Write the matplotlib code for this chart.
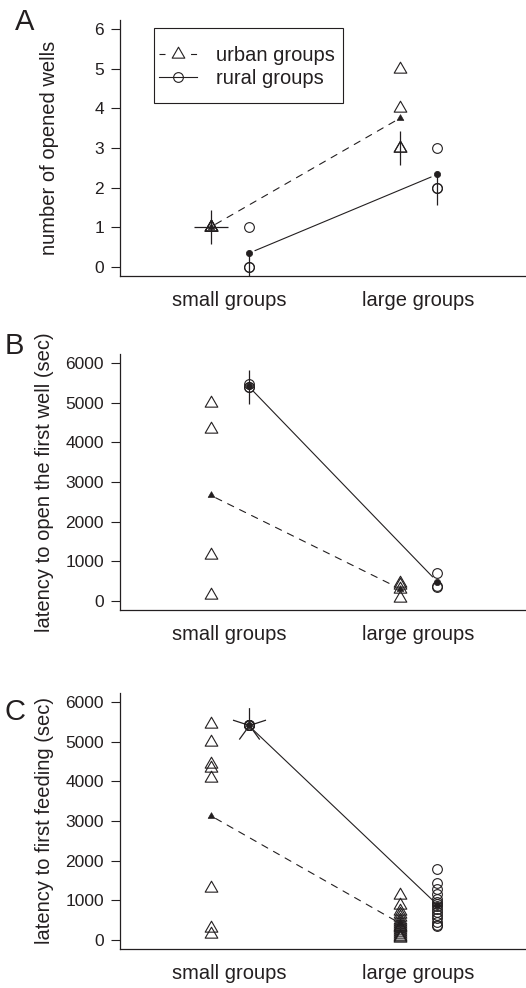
import numpy as np
import matplotlib
matplotlib.use('Agg')
import matplotlib.pyplot as plt
from matplotlib.path import Path
from matplotlib.lines import Line2D
from matplotlib.patches import Rectangle

plt.rcParams['font.family'] = ['Liberation Sans', 'DejaVu Sans']
INK = '#231f20'

groups = ['small groups', 'large groups']

# A - number of opened wells
wells_urban_small = [1, 1, 1, 1]
wells_urban_large = [5, 4, 3, 3]
wells_rural_small = [1, 0, 0]
wells_rural_large = [3, 2, 2]

# B - latency to open the first well (sec)
well_lat_urban_small = [5000, 4350, 1150, 150]
well_lat_urban_large = [450, 400, 300, 60]
well_lat_rural_small = [5400, 5400, 5470]
well_lat_rural_large = [700, 380, 330]

# C - latency to first feeding (sec)
feed_lat_urban_small = [5450, 5000, 4450, 4350, 4100, 1300, 280, 150]
feed_lat_urban_large = [1130, 870, 720, 650, 580, 500, 450, 400, 350, 320,
                        280, 250, 200, 150, 100, 60, 40]
feed_lat_rural_small = [5420, 5420, 5420, 5420, 5420]
feed_lat_rural_large = [1780, 1420, 1280, 1150, 1020, 950, 900, 850, 780,
                        700, 620, 550, 450, 380, 330]

# R-like symbols
TRI = Path([(-0.866, -0.5), (0.866, -0.5), (0, 1), (-0.866, -0.5)],
           [Path.MOVETO, Path.LINETO, Path.LINETO, Path.CLOSEPOLY])


def petals(n):
    # sunflowerplot: one segment per overlapping point
    verts, codes = [], []
    for k in range(1, n + 1):
        d = 2 * np.pi * k / n
        verts += [(0, 0), (np.sin(d), np.cos(d))]
        codes += [Path.MOVETO, Path.LINETO]
    return Path(verts, codes)


def draw_group(ax, x, vals, marker, ms):
    ax.plot([x] * len(vals), vals, ls='none', marker=marker, ms=ms,
            mfc='none', mec=INK, mew=0.8, zorder=3)
    v, c = np.unique(vals, return_counts=True)
    for vv, cc in zip(v, c):
        if cc > 1:
            ax.plot([x], [vv], ls='none', marker=petals(cc), ms=25,
                    mfc='none', mec=INK, mew=0.9, zorder=3)


def panel(ax, us, ul, rs, rl, ymax, step, ylabel, labx):
    off = 0.1
    draw_group(ax, 1 - off, us, TRI, 10.5)
    draw_group(ax, 2 - off, ul, TRI, 10.5)
    draw_group(ax, 1 + off, rs, 'o', 7)
    draw_group(ax, 2 + off, rl, 'o', 7)

    mu = [np.mean(us), np.mean(ul)]
    mr = [np.mean(rs), np.mean(rl)]
    ax.annotate('', xy=(2 - off, mu[1]), xytext=(1 - off, mu[0]),
                arrowprops=dict(arrowstyle='-', shrinkA=4, shrinkB=4,
                                lw=0.8, ls=(0, (6, 6)), color=INK))
    ax.annotate('', xy=(2 + off, mr[1]), xytext=(1 + off, mr[0]),
                arrowprops=dict(arrowstyle='-', shrinkA=5, shrinkB=5,
                                lw=0.8, color=INK))
    ax.plot([1 - off, 2 - off], mu, ls='none', marker=TRI, ms=5.5,
            mfc=INK, mec=INK, mew=0.5, zorder=4)
    ax.plot([1 + off, 2 + off], mr, ls='none', marker='o', ms=4.5,
            mfc=INK, mec=INK, mew=0.5, zorder=4)

    ax.set_xlim(0.42, 2.58)
    ax.set_ylim(-0.04 * ymax, 1.04 * ymax)
    ax.set_xticks([1, 2])
    ax.set_xticklabels(groups)
    ax.set_yticks(np.arange(0, ymax + step / 2, step))
    ax.tick_params(axis='x', length=0, pad=11, labelsize=14.5, colors=INK)
    ax.tick_params(axis='y', length=6.5, width=0.8, pad=5, labelsize=12.5,
                   colors=INK)
    for s in ['top', 'right']:
        ax.spines[s].set_visible(False)
    for s in ['left', 'bottom']:
        ax.spines[s].set_linewidth(0.9)
        ax.spines[s].set_color(INK)
    ax.set_ylabel(ylabel, fontsize=14.5, color=INK, va='center')
    ax.yaxis.set_label_coords(labx, 0.5)


W, H = 526, 988
fig = plt.figure(figsize=(W / 100, H / 100), dpi=100)

axA = fig.add_axes([120 / W, 1 - 276 / H, 408.2 / W, 256 / H])
axB = fig.add_axes([120 / W, 1 - 610 / H, 408.2 / W, 256 / H])
axC = fig.add_axes([120 / W, 1 - 949 / H, 408.2 / W, 256 / H])

panel(axA, wells_urban_small, wells_urban_large, wells_rural_small,
      wells_rural_large, 6, 1, 'number of opened wells', -0.172)
panel(axB, well_lat_urban_small, well_lat_urban_large, well_lat_rural_small,
      well_lat_rural_large, 6000, 1000, 'latency to open the first well (sec)',
      -0.184)
panel(axC, feed_lat_urban_small, feed_lat_urban_large, feed_lat_rural_small,
      feed_lat_rural_large, 6000, 1000, 'latency to first feeding (sec)',
      -0.184)

# legend in panel A
handles = [Line2D([], [], color=INK, lw=0.8, ls=(0, (5.4, 23)), marker=TRI,
                  ms=10.5, mfc='none', mec=INK, mew=0.8),
           Line2D([], [], color=INK, lw=0.8, marker='o', ms=7,
                  mfc='none', mec=INK, mew=0.8)]
axA.legend(handles, ['urban groups', 'rural groups'], loc='center left',
           bbox_to_anchor=((159 - 120) / 408.2, 1 - (67 - 20) / 256),
           frameon=False, fontsize=14.5, handlelength=1.9,
           handletextpad=0.95, labelspacing=0.2, borderpad=0,
           borderaxespad=0, labelcolor=INK)
axA.add_patch(Rectangle(((154 - 120) / 408.2, 1 - (103 - 20) / 256),
                        189 / 408.2, 75 / 256, transform=axA.transAxes,
                        fill=False, ec=INK, lw=0.8, clip_on=False))

for lab, x, y in [('A', 25, 22.5), ('B', 14, 346), ('C', 15.5, 712)]:
    fig.text(x / W, 1 - y / H, lab, fontsize=21, ha='center', va='center',
             color=INK)

fig.savefig('out.png', dpi=100)
